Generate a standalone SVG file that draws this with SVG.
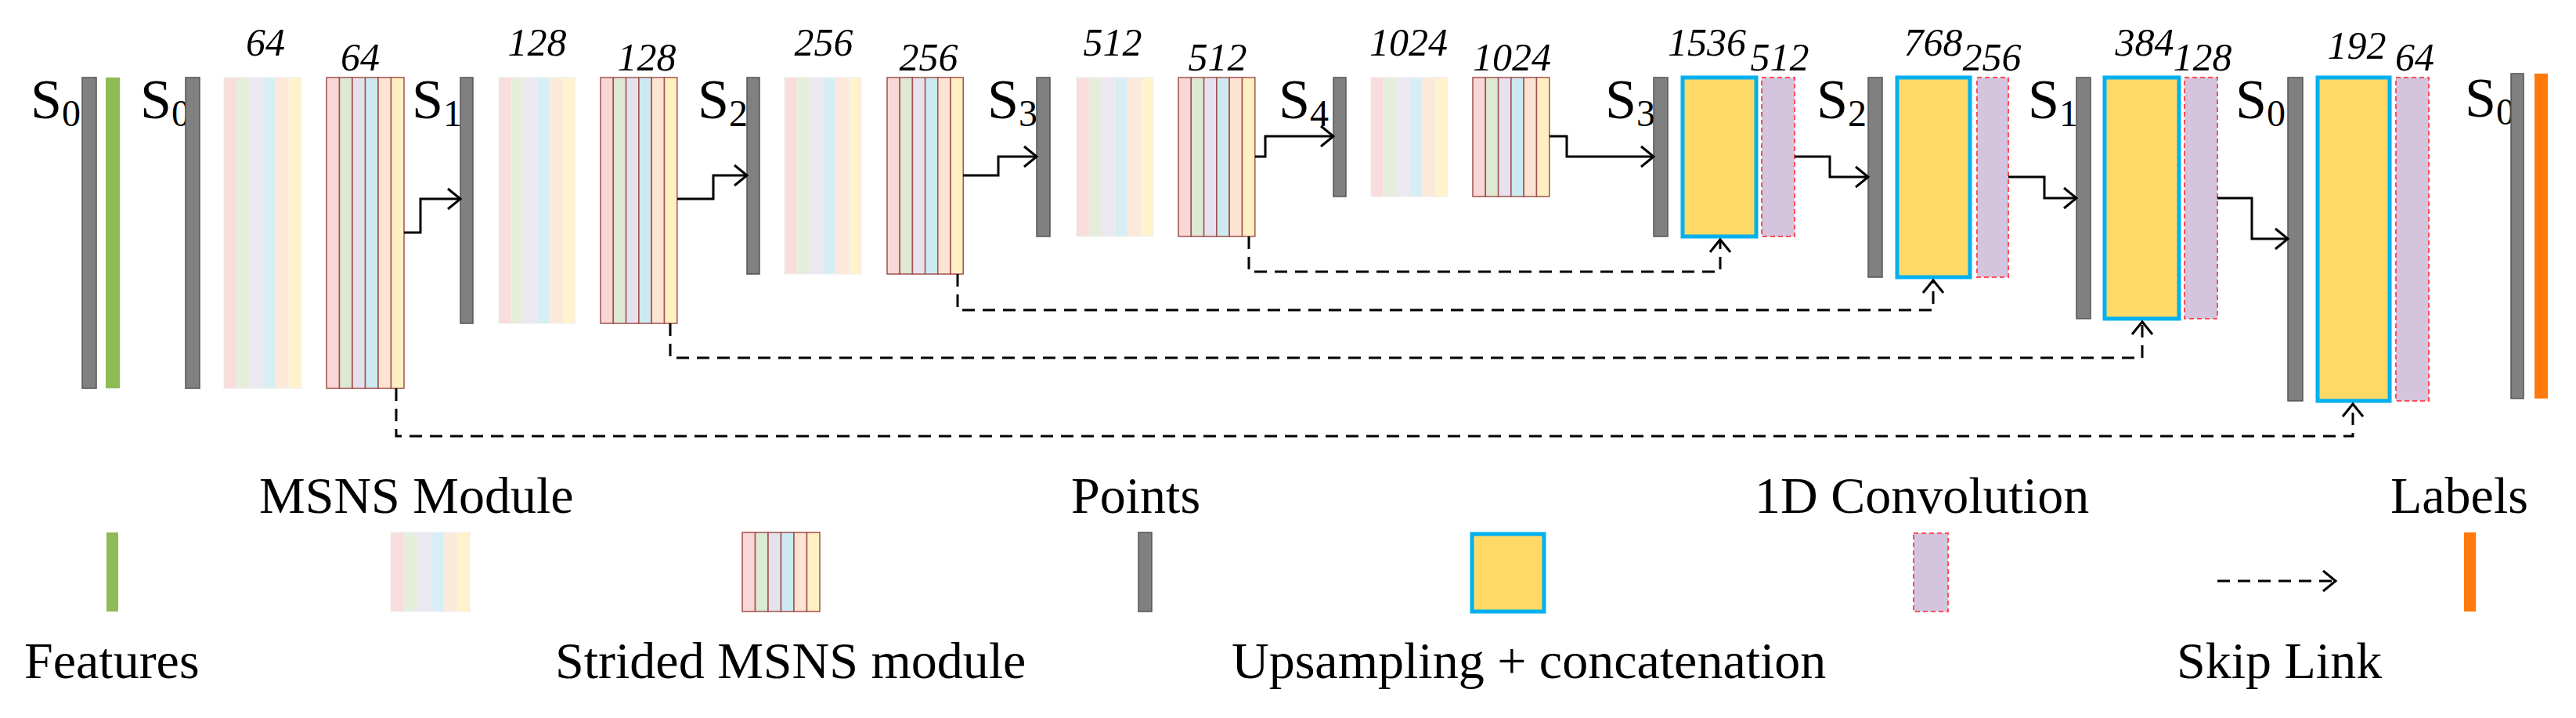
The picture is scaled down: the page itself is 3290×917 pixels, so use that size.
<svg xmlns="http://www.w3.org/2000/svg" width="3290" height="917" viewBox="0 0 3290 917">
<defs>
<style>
.g{fill:#808080;stroke:#555;stroke-width:1.5}
.gr{fill:#8fbb55}
.or{fill:#ff7a0a}
.y{fill:#ffd966;stroke:#00b0f0;stroke-width:5}
.p{fill:#d4c4dd;stroke:#ff4d5a;stroke-width:2;stroke-dasharray:6 4}
.c1{fill:#f9dcdc}.c2{fill:#e4eedb}.c3{fill:#ebe8f2}.c4{fill:#d6eef4}.c5{fill:#fde9d9}.c6{fill:#fff2cc}
.m rect{stroke:#eee;stroke-width:1}
.s rect{stroke:#a0504c;stroke-width:1.5}
.s .c1{fill:#f8d7d6}.s .c2{fill:#dde9d3}.s .c3{fill:#e6e1ee}.s .c4{fill:#cde9f1}.s .c5{fill:#fde4d2}.s .c6{fill:#fff0c4}
text{font-family:"Liberation Serif","Times New Roman",serif;fill:#000}
.n{font-size:50px;font-style:italic;text-anchor:middle}
.L{font-size:72px}
.sub{font-size:48px}
.lg{font-size:66px}
.a{fill:none;stroke:#000;stroke-width:3;marker-end:url(#ah)}
.d{fill:none;stroke:#000;stroke-width:3;stroke-dasharray:16 10}
</style>
<marker id="ah" markerUnits="userSpaceOnUse" markerWidth="24" markerHeight="30" refX="20" refY="15" orient="auto" viewBox="0 0 24 30">
<path d="M4,2 L20,15 L4,28" fill="none" stroke="#000" stroke-width="3"/>
</marker>
<marker id="ahd" markerUnits="userSpaceOnUse" markerWidth="24" markerHeight="30" refX="20" refY="15" orient="auto" viewBox="0 0 24 30">
<path d="M4,2 L20,15 L4,28" fill="none" stroke="#000" stroke-width="3"/>
</marker>
<g id="mod6">
<rect class="c1" x="0" y="0" width="16.4" height="1"/>
</g>
</defs>
<rect width="3290" height="917" fill="#fff"/>

<!-- labels S -->
<g id="slabels">
<text class="L" x="39" y="151">S<tspan class="sub" dy="10">0</tspan></text>
<text class="L" x="179" y="151">S<tspan class="sub" dy="10">0</tspan></text>
<text class="L" x="526" y="151">S<tspan class="sub" dy="10">1</tspan></text>
<text class="L" x="891" y="151">S<tspan class="sub" dy="10">2</tspan></text>
<text class="L" x="1261" y="151">S<tspan class="sub" dy="10">3</tspan></text>
<text class="L" x="1633" y="151">S<tspan class="sub" dy="10">4</tspan></text>
<text class="L" x="2050" y="151">S<tspan class="sub" dy="10">3</tspan></text>
<text class="L" x="2320" y="151">S<tspan class="sub" dy="10">2</tspan></text>
<text class="L" x="2590" y="151">S<tspan class="sub" dy="10">1</tspan></text>
<text class="L" x="2855" y="151">S<tspan class="sub" dy="10">0</tspan></text>
<text class="L" x="3148" y="149">S<tspan class="sub" dy="10">0</tspan></text>
</g>

<!-- points / features / labels bars -->
<g id="pts0"><rect class="g" x="105" y="99" width="18" height="397"/></g>
<g id="feat"><rect class="gr" x="135" y="99" width="18" height="397"/></g>
<g id="pts0b"><rect class="g" x="237" y="99" width="18" height="397"/></g>
<g id="pts1"><rect class="g" x="588" y="99" width="16" height="314"/></g>
<g id="pts2"><rect class="g" x="954" y="99" width="16" height="251"/></g>
<g id="pts3"><rect class="g" x="1324" y="99" width="17" height="203"/></g>
<g id="pts4"><rect class="g" x="1703" y="99" width="16" height="152"/></g>
<g id="pts3u"><rect class="g" x="2112" y="99" width="18" height="203"/></g>
<g id="pts2u"><rect class="g" x="2386" y="99" width="18" height="255"/></g>
<g id="pts1u"><rect class="g" x="2652" y="99" width="18" height="308"/></g>
<g id="pts0u"><rect class="g" x="2922" y="99" width="19" height="413"/></g>
<g id="pts0o"><rect class="g" x="3207" y="94" width="16" height="415"/></g>
<g id="labels"><rect class="or" x="3237" y="94" width="17" height="415"/></g>

<!-- MSNS modules -->
<g id="msns64" class="m">
<rect class="c1" x="286" y="99" width="16.4" height="397"/><rect class="c2" x="302.4" y="99" width="16.4" height="397"/><rect class="c3" x="318.8" y="99" width="16.4" height="397"/><rect class="c4" x="335.2" y="99" width="16.4" height="397"/><rect class="c5" x="351.6" y="99" width="16.4" height="397"/><rect class="c6" x="368" y="99" width="16.4" height="397"/>
<text class="n" x="339" y="71">64</text></g>
<g id="msns128" class="m">
<rect class="c1" x="637" y="99" width="16.2" height="314"/><rect class="c2" x="653.2" y="99" width="16.2" height="314"/><rect class="c3" x="669.4" y="99" width="16.2" height="314"/><rect class="c4" x="685.6" y="99" width="16.2" height="314"/><rect class="c5" x="701.8" y="99" width="16.2" height="314"/><rect class="c6" x="718" y="99" width="16.2" height="314"/>
<text class="n" x="686" y="71">128</text></g>
<g id="msns256" class="m">
<rect class="c1" x="1002" y="99" width="16.3" height="251"/><rect class="c2" x="1018.3" y="99" width="16.3" height="251"/><rect class="c3" x="1034.6" y="99" width="16.3" height="251"/><rect class="c4" x="1050.9" y="99" width="16.3" height="251"/><rect class="c5" x="1067.2" y="99" width="16.3" height="251"/><rect class="c6" x="1083.5" y="99" width="16.3" height="251"/>
<text class="n" x="1052" y="71">256</text></g>
<g id="msns512" class="m">
<rect class="c1" x="1375" y="99" width="16.3" height="203"/><rect class="c2" x="1391.3" y="99" width="16.3" height="203"/><rect class="c3" x="1407.6" y="99" width="16.3" height="203"/><rect class="c4" x="1423.9" y="99" width="16.3" height="203"/><rect class="c5" x="1440.2" y="99" width="16.3" height="203"/><rect class="c6" x="1456.5" y="99" width="16.3" height="203"/>
<text class="n" x="1421" y="71">512</text></g>
<g id="msns1024" class="m">
<rect class="c1" x="1751" y="99" width="16.3" height="152"/><rect class="c2" x="1767.3" y="99" width="16.3" height="152"/><rect class="c3" x="1783.6" y="99" width="16.3" height="152"/><rect class="c4" x="1799.9" y="99" width="16.3" height="152"/><rect class="c5" x="1816.2" y="99" width="16.3" height="152"/><rect class="c6" x="1832.5" y="99" width="16.3" height="152"/>
<text class="n" x="1799" y="71">1024</text></g>

<!-- Strided MSNS modules -->
<g id="str64" class="s">
<rect class="c1" x="417" y="99" width="16.5" height="397"/><rect class="c2" x="433.5" y="99" width="16.5" height="397"/><rect class="c3" x="450" y="99" width="16.5" height="397"/><rect class="c4" x="466.5" y="99" width="16.5" height="397"/><rect class="c5" x="483" y="99" width="16.5" height="397"/><rect class="c6" x="499.5" y="99" width="16.5" height="397"/>
<text class="n" x="460" y="90">64</text></g>
<g id="str128" class="s">
<rect class="c1" x="767" y="99" width="16.3" height="314"/><rect class="c2" x="783.3" y="99" width="16.3" height="314"/><rect class="c3" x="799.6" y="99" width="16.3" height="314"/><rect class="c4" x="815.9" y="99" width="16.3" height="314"/><rect class="c5" x="832.2" y="99" width="16.3" height="314"/><rect class="c6" x="848.5" y="99" width="16.3" height="314"/>
<text class="n" x="826" y="90">128</text></g>
<g id="str256" class="s">
<rect class="c1" x="1133" y="99" width="16.2" height="251"/><rect class="c2" x="1149.2" y="99" width="16.2" height="251"/><rect class="c3" x="1165.4" y="99" width="16.2" height="251"/><rect class="c4" x="1181.6" y="99" width="16.2" height="251"/><rect class="c5" x="1197.8" y="99" width="16.2" height="251"/><rect class="c6" x="1214" y="99" width="16.2" height="251"/>
<text class="n" x="1186" y="90">256</text></g>
<g id="str512" class="s">
<rect class="c1" x="1505" y="99" width="16.3" height="203"/><rect class="c2" x="1521.3" y="99" width="16.3" height="203"/><rect class="c3" x="1537.6" y="99" width="16.3" height="203"/><rect class="c4" x="1553.9" y="99" width="16.3" height="203"/><rect class="c5" x="1570.2" y="99" width="16.3" height="203"/><rect class="c6" x="1586.5" y="99" width="16.3" height="203"/>
<text class="n" x="1555" y="90">512</text></g>
<g id="str1024" class="s">
<rect class="c1" x="1881" y="99" width="16.3" height="152"/><rect class="c2" x="1897.3" y="99" width="16.3" height="152"/><rect class="c3" x="1913.6" y="99" width="16.3" height="152"/><rect class="c4" x="1929.9" y="99" width="16.3" height="152"/><rect class="c5" x="1946.2" y="99" width="16.3" height="152"/><rect class="c6" x="1962.5" y="99" width="16.3" height="152"/>
<text class="n" x="1931" y="90">1024</text></g>

<!-- Upsampling + concatenation -->
<g id="up1536"><rect class="y" x="2149" y="99" width="94" height="203"/><text class="n" x="2180" y="71">1536</text></g>
<g id="up768"><rect class="y" x="2423" y="99" width="93" height="255"/><text class="n" x="2469" y="71">768</text></g>
<g id="up384"><rect class="y" x="2688" y="99" width="95" height="308"/><text class="n" x="2739" y="71">384</text></g>
<g id="up192"><rect class="y" x="2960" y="99" width="92" height="413"/><text class="n" x="3010" y="75">192</text></g>

<!-- 1D conv -->
<g id="conv512"><rect class="p" x="2250" y="99" width="42" height="203"/><text class="n" x="2273" y="90">512</text></g>
<g id="conv256"><rect class="p" x="2525" y="99" width="40" height="255"/><text class="n" x="2544" y="90">256</text></g>
<g id="conv128"><rect class="p" x="2790" y="99" width="42" height="308"/><text class="n" x="2813" y="90">128</text></g>
<g id="conv64"><rect class="p" x="3060" y="99" width="42" height="413"/><text class="n" x="3084" y="90">64</text></g>

<!-- connectors -->
<g id="connectors">
<path class="a" d="M516,297 H537 V254 H588"/>
<path class="a" d="M865,254 H911 V224 H954"/>
<path class="a" d="M1230,224 H1275 V200 H1324"/>
<path class="a" d="M1603,200 H1616 V174 H1703"/>
<path class="a" d="M1979,174 H2001 V200 H2112"/>
<path class="a" d="M2292,200 H2337 V226 H2386"/>
<path class="a" d="M2565,226 H2611 V253 H2652"/>
<path class="a" d="M2832,253 H2876 V305 H2922"/>
<path class="d" d="M1595,302 V347 H2197 V306" marker-end="url(#ahd)"/>
<path class="d" d="M1223,350 V396 H2469 V358" marker-end="url(#ahd)"/>
<path class="d" d="M856,413 V457 H2736 V411" marker-end="url(#ahd)"/>
<path class="d" d="M506,496 V557 H3005 V516" marker-end="url(#ahd)"/>
</g>

<!-- legend -->
<g id="legend">
<text class="lg" x="331" y="655">MSNS Module</text>
<text class="lg" x="1368" y="655">Points</text>
<text class="lg" x="2241" y="655">1D Convolution</text>
<text class="lg" x="3053" y="655">Labels</text>
<rect class="gr" x="136" y="680" width="15" height="101"/>
<g class="m">
<rect class="c1" x="499" y="680" width="17" height="101"/><rect class="c2" x="516" y="680" width="17" height="101"/><rect class="c3" x="533" y="680" width="17" height="101"/><rect class="c4" x="550" y="680" width="17" height="101"/><rect class="c5" x="567" y="680" width="17" height="101"/><rect class="c6" x="584" y="680" width="16" height="101"/>
</g>
<g class="s">
<rect class="c1" x="948" y="680" width="16.5" height="101"/><rect class="c2" x="964.5" y="680" width="16.5" height="101"/><rect class="c3" x="981" y="680" width="16.5" height="101"/><rect class="c4" x="997.5" y="680" width="16.5" height="101"/><rect class="c5" x="1014" y="680" width="16.5" height="101"/><rect class="c6" x="1030.5" y="680" width="16.5" height="101"/>
</g>
<rect class="g" x="1454" y="680" width="17" height="101"/>
<rect class="y" x="1880" y="682" width="92" height="99"/>
<rect class="p" x="2444" y="681" width="44" height="100"/>
<path class="d" d="M2832,742 H2983" stroke-dasharray="12 6" marker-end="url(#ahd)"/>
<rect class="or" x="3147" y="680" width="15" height="101"/>
<text class="lg" x="31" y="866">Features</text>
<text class="lg" x="709" y="866">Strided MSNS module</text>
<text class="lg" x="1573" y="866">Upsampling + concatenation</text>
<text class="lg" x="2780" y="866">Skip Link</text>
</g>
</svg>
